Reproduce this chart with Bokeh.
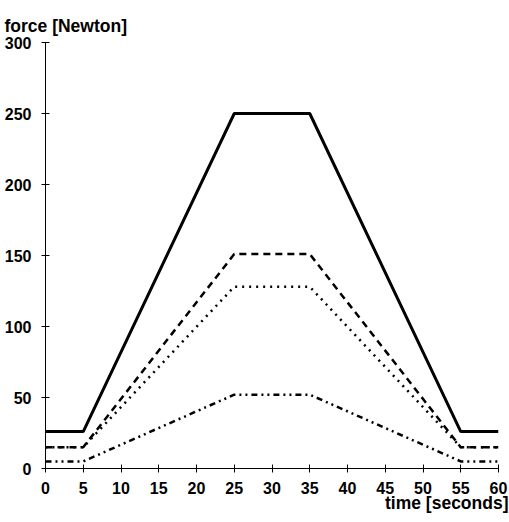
from bokeh.plotting import figure
from bokeh.models import Range1d, FixedTicker, Title
from bokeh.embed import file_html
from bokeh.resources import INLINE

# data
time_s = [0, 5, 25, 35, 55, 60]
force_solid = [26, 26, 250, 250, 26, 26]
force_dashed = [15, 15, 151, 151, 15, 15]
force_dotted = [15, 15, 128, 128, 15, 15]
force_dashdot = [5, 5, 52, 52, 5, 5]
x_ticks = [0, 5, 10, 15, 20, 25, 30, 35, 40, 45, 50, 55, 60]
y_ticks = [0, 50, 100, 150, 200, 250, 300]

FONT = "Liberation Sans"

p = figure(width=509, height=522, output_backend="svg", toolbar_location=None,
           x_range=Range1d(0, 60), y_range=Range1d(0, 300),
           min_border_left=45, min_border_right=11, min_border_top=42, min_border_bottom=54)
p.outline_line_color = None
p.xgrid.visible = False
p.ygrid.visible = False
p.background_fill_color = "white"
p.border_fill_color = "white"

p.line(time_s, force_solid, line_color="black", line_width=3)
p.line(time_s, force_dashed, line_color="black", line_width=2.5, line_dash="7 5")
p.line(time_s, force_dotted, line_color="black", line_width=2.5, line_dash="2 5")
p.line(time_s, force_dashdot, line_color="black", line_width=2.5, line_dash="6 4 2 4 2 4")

for ax, ticks in ((p.xaxis, x_ticks), (p.yaxis, y_ticks)):
    ax.ticker = FixedTicker(ticks=ticks)
    ax.minor_tick_line_color = None
    ax.major_tick_in = 4
    ax.major_tick_out = 4
    ax.axis_line_color = "black"
    ax.major_tick_line_color = "black"
    ax.major_label_text_font = FONT
    ax.major_label_text_font_style = "bold"
    ax.major_label_text_font_size = "16px"
    ax.major_label_text_color = "black"
p.xaxis.major_label_standoff = 9
p.yaxis.major_label_standoff = 10

p.title.text = "force [Newton]"
p.title.align = "left"
p.title.vertical_align = "top"
p.title.offset = -41
p.title.text_font = FONT
p.title.text_font_style = "bold"
p.title.text_font_size = "17.5px"
p.title.text_color = "black"
p.title.standoff = 10

p.add_layout(Title(text="time [seconds]", align="right", offset=-10, text_font=FONT,
                   text_font_style="bold", text_font_size="17.5px", text_color="black",
                   standoff=-11), "below")

open("out.html", "w").write(file_html(p, INLINE))
